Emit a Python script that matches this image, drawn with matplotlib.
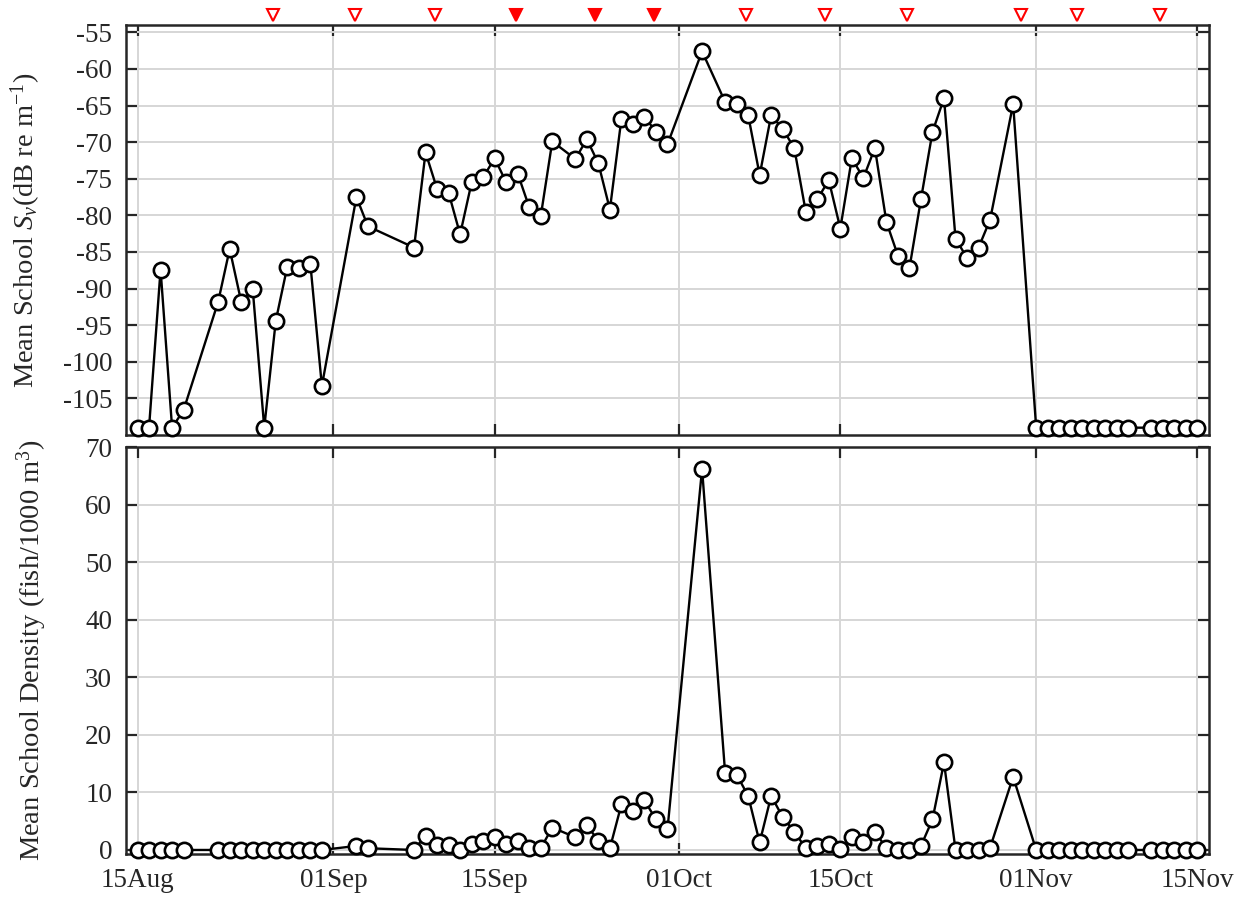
import matplotlib
matplotlib.use("Agg")
import matplotlib.pyplot as plt
import matplotlib.dates as mdates
import matplotlib.transforms as mtransforms
import pandas as pd

plt.rcParams['font.family'] = ['Liberation Serif', 'DejaVu Serif']
plt.rcParams['mathtext.fontset'] = 'custom'
plt.rcParams['mathtext.rm'] = 'Liberation Serif'
plt.rcParams['mathtext.it'] = 'Liberation Serif:italic'

# ---- data ----
dates = pd.to_datetime([
    "2015-08-15", "2015-08-16", "2015-08-17", "2015-08-18", "2015-08-19",
    "2015-08-22", "2015-08-23", "2015-08-24", "2015-08-25", "2015-08-26",
    "2015-08-27", "2015-08-28", "2015-08-29", "2015-08-30", "2015-08-31",
    "2015-09-03", "2015-09-04", "2015-09-08", "2015-09-09", "2015-09-10",
    "2015-09-11", "2015-09-12", "2015-09-13", "2015-09-14", "2015-09-15",
    "2015-09-16", "2015-09-17", "2015-09-18", "2015-09-19", "2015-09-20",
    "2015-09-22", "2015-09-23", "2015-09-24", "2015-09-25", "2015-09-26",
    "2015-09-27", "2015-09-28", "2015-09-29", "2015-09-30", "2015-10-03",
    "2015-10-05", "2015-10-06", "2015-10-07", "2015-10-08", "2015-10-09",
    "2015-10-10", "2015-10-11", "2015-10-12", "2015-10-13", "2015-10-14",
    "2015-10-15", "2015-10-16", "2015-10-17", "2015-10-18", "2015-10-19",
    "2015-10-20", "2015-10-21", "2015-10-22", "2015-10-23", "2015-10-24",
    "2015-10-25", "2015-10-26", "2015-10-27", "2015-10-28", "2015-10-30",
    "2015-11-01", "2015-11-02", "2015-11-03", "2015-11-04", "2015-11-05",
    "2015-11-06", "2015-11-07", "2015-11-08", "2015-11-09",
    "2015-11-11", "2015-11-12", "2015-11-13", "2015-11-14", "2015-11-15",
])

sv_mean = [
    -109.0, -109.0, -87.4, -109.0, -106.6,
    -91.8, -84.6, -91.8, -90.1, -109.0,
    -94.4, -87.0, -87.2, -86.6, -103.3,
    -77.5, -81.5, -84.4, -71.4, -76.4,
    -76.9, -82.6, -75.5, -74.8, -72.2,
    -75.5, -74.3, -78.9, -80.1, -69.9,
    -72.3, -69.6, -72.9, -79.2, -66.8,
    -67.5, -66.5, -68.6, -70.3, -57.6,
    -64.5, -64.8, -66.3, -74.5, -66.3,
    -68.2, -70.8, -79.5, -77.8, -75.2,
    -81.8, -72.2, -74.9, -70.8, -80.9,
    -85.5, -87.2, -77.8, -68.6, -64.0,
    -83.2, -85.8, -84.4, -80.6, -64.8,
    -109.0, -109.0, -109.0, -109.0, -109.0,
    -109.0, -109.0, -109.0, -109.0,
    -109.0, -109.0, -109.0, -109.0, -109.0,
]

density = [
    0.0, 0.0, 0.0, 0.0, 0.0,
    0.0, 0.0, 0.0, 0.0, 0.0,
    0.0, 0.0, 0.0, 0.0, 0.0,
    0.7, 0.3, 0.0, 2.5, 0.8,
    0.8, 0.0, 1.1, 1.5, 2.2,
    1.0, 1.5, 0.3, 0.3, 3.9,
    2.2, 4.3, 1.6, 0.3, 7.9,
    6.8, 8.6, 5.3, 3.6, 66.2,
    13.4, 13.1, 9.4, 1.3, 9.4,
    5.7, 3.2, 0.3, 0.7, 1.0,
    0.2, 2.2, 1.3, 3.2, 0.3,
    0.0, 0.0, 0.7, 5.3, 15.2,
    0.0, 0.0, 0.0, 0.4, 12.7,
    0.0, 0.0, 0.0, 0.0, 0.0,
    0.0, 0.0, 0.0, 0.0,
    0.0, 0.0, 0.0, 0.0, 0.0,
]

event_dates = pd.to_datetime([
    "2015-08-26 19:00", "2015-09-02 22:00", "2015-09-09 19:00",
    "2015-09-16 20:00", "2015-09-23 18:00", "2015-09-28 19:00",
    "2015-10-06 19:00", "2015-10-13 17:00", "2015-10-20 19:00",
    "2015-10-30 17:00", "2015-11-04 14:00", "2015-11-11 17:00",
])
event_filled = [False, False, False, True, True, True,
                False, False, False, False, False, False]

xticks = pd.to_datetime(["2015-08-15", "2015-09-01", "2015-09-15",
                         "2015-10-01", "2015-10-15", "2015-11-01", "2015-11-15"])
sv_ticks = list(range(-105, -54, 5))
dens_ticks = list(range(0, 71, 10))

# ---- figure ----
W, H = 1246, 898
fig = plt.figure(figsize=(W / 100, H / 100), dpi=100)
ax1 = fig.add_axes([126 / W, 1 - 435 / H, 1083 / W, 410 / H])
ax2 = fig.add_axes([126 / W, 1 - 854 / H, 1083 / W, 407 / H])

frame_col = '#262626'
xlim = (pd.Timestamp("2015-08-14"), pd.Timestamp("2015-11-16"))
tick_fs = 19.5
label_fs = 20.5

for ax in (ax1, ax2):
    ax.plot(dates, sv_mean if ax is ax1 else density, '-', color='black', lw=1.7,
            marker='o', ms=11, mfc='white', mec='black', mew=1.9, zorder=3,
            clip_on=False)
    ax.set_xlim(*xlim)
    ax.set_xticks(xticks)
    ax.xaxis.set_major_formatter(mdates.DateFormatter('%d%b'))
    ax.grid(True, color='#d6d6d6', lw=1.4, zorder=0)
    ax.set_axisbelow(True)
    ax.tick_params(direction='in', length=8, width=1.6, top=True, right=True,
                   labelsize=tick_fs, colors=frame_col)
    ax.tick_params(axis='y', pad=10)
    ax.tick_params(axis='x', pad=10)
    for s in ax.spines.values():
        s.set_color(frame_col)
        s.set_linewidth(1.8)

ax1.set_ylim(-110, -54)
ax1.set_yticks(sv_ticks)
ax1.set_yticklabels([str(t) for t in sv_ticks])
ax1.tick_params(labelbottom=False)
ax1.set_ylabel(r'Mean School $S_v$(dB re m$^{-1}$)', fontsize=label_fs, color=frame_col)
ax1.yaxis.set_label_coords(-0.077, 0.5)

ax2.set_ylim(-0.7, 70)
ax2.set_yticks(dens_ticks)
ax2.set_ylabel(r'Mean School Density (fish/1000 m$^3$)', fontsize=label_fs, color=frame_col)
ax2.yaxis.set_label_coords(-0.071, 0.5)

# event markers above the top panel
trans = mtransforms.blended_transform_factory(ax1.transData, ax1.transAxes)
for d, filled in zip(event_dates, event_filled):
    ax1.plot([d], [1.024], marker='v', ms=8.5, mec='red', mew=1.5,
             mfc='red' if filled else 'white', transform=trans, clip_on=False,
             ls='none')

fig.savefig('out.png', dpi=100)
